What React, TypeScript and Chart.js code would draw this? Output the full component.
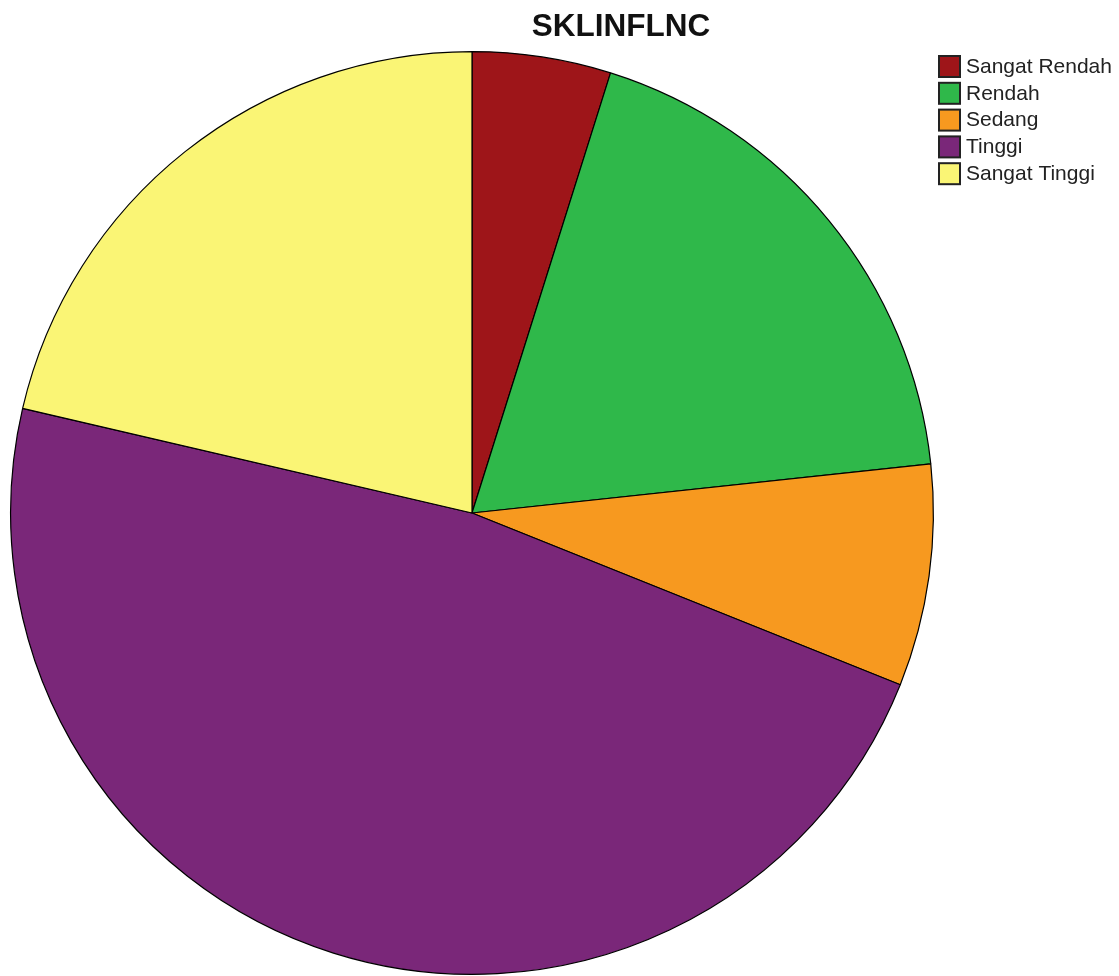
import React, { useEffect, useRef } from "react";
import { Chart, registerables } from "chart.js";

Chart.register(...registerables);

const titleText = "SKLINFLNC";
const categories = ["Sangat Rendah", "Rendah", "Sedang", "Tinggi", "Sangat Tinggi"];
const counts = [5, 19, 8, 49, 22];
const colors = ["#9E1519", "#2FB84A", "#F7991F", "#7A2779", "#FAF575"];

const overlayPlugin = {
  id: "overlay",
  afterDraw(chart: any) {
    const ctx = chart.ctx;
    ctx.save();
    // title
    ctx.fillStyle = "#111";
    ctx.font = "bold 31.5px 'Liberation Sans', Arial, sans-serif";
    ctx.textAlign = "center";
    ctx.textBaseline = "middle";
    ctx.fillText(titleText, 621, 27);
    // legend
    ctx.textAlign = "left";
    ctx.font = "21px 'Liberation Sans', Arial, sans-serif";
    categories.forEach((c, i) => {
      const y = 56 + i * 26.8;
      ctx.fillStyle = colors[i];
      ctx.fillRect(939, y, 21, 21);
      ctx.strokeStyle = "#222";
      ctx.lineWidth = 2;
      ctx.strokeRect(939, y, 21, 21);
      ctx.fillStyle = "#222";
      ctx.fillText(c, 966, y + 11);
    });
    ctx.restore();
  },
};

export default function App() {
  const ref = useRef<HTMLCanvasElement>(null);
  useEffect(() => {
    if (!ref.current) return;
    const chart = new Chart(ref.current, {
      type: "pie",
      data: {
        labels: categories,
        datasets: [
          {
            data: counts,
            backgroundColor: colors,
            borderColor: "#000",
            borderWidth: 1.2,
          },
        ],
      },
      options: {
        responsive: false,
        animation: false,
        layout: { padding: { top: 51, bottom: 1, left: 10, right: 185 } },
        plugins: {
          legend: { display: false },
          title: { display: false },
          tooltip: { enabled: false },
        },
      },
      plugins: [overlayPlugin],
    });
    return () => chart.destroy();
  }, []);
  return (
    <div style={{ position: "absolute", left: 0, top: 0, width: 1119, height: 976, background: "#fff" }}>
      <canvas ref={ref} width={1119} height={976} style={{ width: 1119, height: 976 }} />
    </div>
  );
}
